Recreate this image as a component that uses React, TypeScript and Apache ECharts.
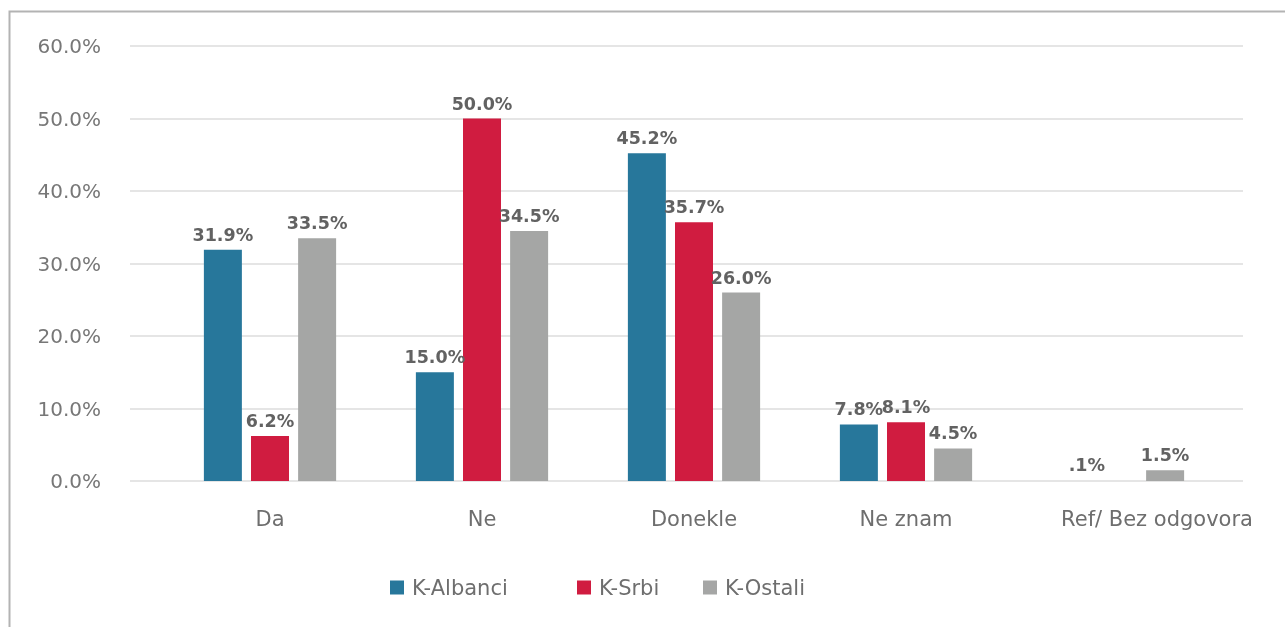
import React, { useEffect, useRef } from "react";
import * as echarts from "echarts";

const categories = ["Da", "Ne", "Donekle", "Ne znam", "Ref/ Bez odgovora"];
const seriesNames = ["K-Albanci", "K-Srbi", "K-Ostali"];
const albanci = [31.9, 15.0, 45.2, 7.8, 0.1];
const srbi: (number | null)[] = [6.2, 50.0, 35.7, 8.1, null];
const ostali = [33.5, 34.5, 26.0, 4.5, 1.5];
const colors = ["#27779b", "#d01c40", "#a5a6a5"];
const yTicks = [0, 10, 20, 30, 40, 50, 60];
const legendLefts = [385, 572, 698];

const FONT = "'DejaVu Sans', sans-serif";

export default function App() {
  const ref = useRef<HTMLDivElement>(null);
  useEffect(() => {
    document.body.style.margin = "0";
    const chart = echarts.init(ref.current!, null, { renderer: "svg" });
    const fmt = (v: number) => (v.toFixed(1) + "%").replace(/^0\./, ".");
    const label = {
      show: true,
      position: "top" as const,
      distance: 6,
      color: "#626262",
      fontFamily: FONT,
      fontWeight: "bold" as const,
      fontSize: 17.5,
      formatter: (p: any) => (p.value == null ? "" : fmt(p.value)),
    };
    const data = [albanci, srbi, ostali];
    chart.setOption({
      animation: false,
      grid: [
        { left: 130, right: 42, top: 46, bottom: 146 },
        { left: 164, right: 61, top: 46, bottom: 146 },
      ],
      xAxis: [
        { type: "value", gridIndex: 0, show: false, min: 0, max: 1 },
        {
          type: "category",
          gridIndex: 1,
          data: categories.map((c, i) =>
            i === categories.length - 1
              ? { value: c, textStyle: { padding: [0, 0, 0, 78] } }
              : c
          ),
          axisLine: { show: false },
          axisTick: { show: false },
          axisLabel: {
            color: "#6e6e6e",
            fontFamily: FONT,
            fontSize: 21,
            margin: 27,
            interval: 0,
          },
        },
      ],
      yAxis: [
        {
          type: "value",
          gridIndex: 0,
          min: yTicks[0],
          max: yTicks[yTicks.length - 1],
          interval: 10,
          axisLine: { show: false },
          axisTick: { show: false },
          axisLabel: {
            color: "#777777",
            fontFamily: FONT,
            fontSize: 20,
            margin: 29,
            formatter: (v: number) => v.toFixed(1) + "%",
          },
          splitLine: { lineStyle: { color: "#dcdcdc", width: 1.5 } },
        },
        {
          type: "value",
          gridIndex: 1,
          min: 0,
          max: 60,
          show: false,
        },
      ],
      legend: seriesNames.map((name, i) => ({
        left: legendLefts[i],
        top: 572,
        itemWidth: 14,
        itemHeight: 14,
        icon: "rect",
        textStyle: {
          color: "#6e6e6e",
          fontFamily: FONT,
          fontSize: 21,
          padding: [0, 0, 0, 3],
        },
        data: [name],
      })),
      series: seriesNames.map((name, i) => ({
        name,
        type: "bar",
        xAxisIndex: 1,
        yAxisIndex: 1,
        barWidth: 38,
        barGap: "24%",
        itemStyle: { color: colors[i] },
        label,
        data: data[i].map((v, j) =>
          i === 0 && j === 4
            ? { value: v, itemStyle: { opacity: 0 }, label: { offset: [16, 0], opacity: 1 } }
            : v
        ),
      })),
      graphic: [
        {
          type: "rect",
          shape: { x: 9.5, y: 11.5, width: 1300, height: 640 },
          style: { fill: "none", stroke: "#b3b3b3", lineWidth: 2 },
          silent: true,
        },
      ],
    });
    return () => chart.dispose();
  }, []);
  return (
    <div
      ref={ref}
      style={{ position: "fixed", left: 0, top: 0, width: 1285, height: 627 }}
    />
  );
}
